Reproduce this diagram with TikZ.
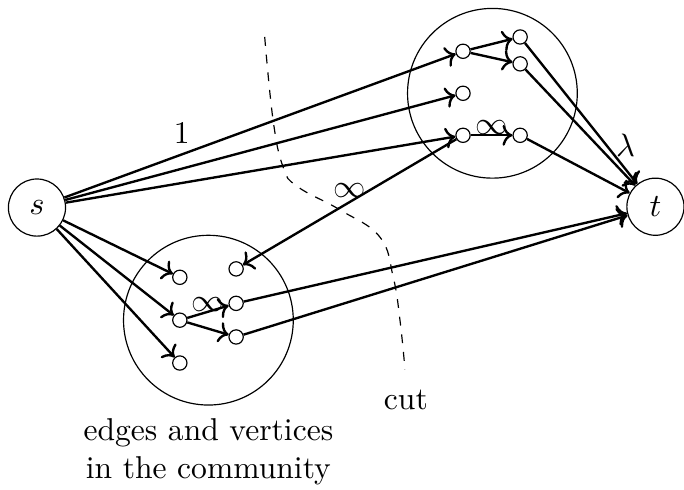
\documentclass[tikz,border=0pt]{standalone}
\usetikzlibrary{
  arrows.meta,
  positioning
}
\tikzset{
  every node/.style={
    font=\fontsize{10.7pt}{12.8pt}\selectfont
  },
  flow/.style={
    ->,
    thick
  },
  terminal/.style={
    draw,
    circle,
    minimum size=0.68cm,
    inner sep=0pt
  },
  vertex/.style={
    draw,
    circle,
    minimum size=0.17cm,
    inner sep=0pt
  },
  community/.style={
    draw,
    circle,
    minimum size=2.02cm
  },
  cutline/.style={
    dashed
  },
  weight/.style={
    inner sep=1pt
  }
}

\begin{document}
\begin{tikzpicture}
  \useasboundingbox (0,0) rectangle (8.14,5.82);

  % terminals
  \node[terminal] (s) at (0.44,3.35) {$s$};
  \node[terminal] (t) at (7.80,3.36) {$t$};

  % communities
  \node[community] (upper) at (5.86,4.71) {};
  \node[community] (lower) at (2.48,2.01) {};

  % vertices
  \foreach \name/\x/\y in {
    u1/5.51/5.21,
    u2/6.19/5.38,
    u3/6.19/5.06,
    u4/5.51/4.71,
    u5/5.51/4.21,
    u6/6.19/4.21,
    l1/2.14/2.52,
    l2/2.81/2.62,
    l3/2.14/2.01,
    l4/2.81/2.21,
    l5/2.81/1.81,
    l6/2.14/1.50
  }{
    \node[vertex] (\name) at (\x,\y) {};
  }

  % source edges
  \draw[flow] (s) -- node[pos=0.30, above] {1} (u1);
  \foreach \v in {u4,u5,l1,l3,l6}{
    \draw[flow] (s) -- (\v);
  }

  % edges inside communities
  \draw[flow] (u1) -- (u2);
  \draw[flow] (u1) -- (u3);
  \draw[flow] (u5) -- node[weight, midway, yshift=2.5pt] {$\infty$} (u6);
  \draw[flow] (l3) -- node[weight, midway, yshift=2.5pt] {$\infty$} (l4);
  \draw[flow] (l3) -- (l5);
  \draw[flow] (u5) -- node[weight, midway, yshift=4pt] {$\infty$} (l2);

  % sink edges
  \draw[flow] (u2) -- node[pos=0.66, right, xshift=2pt, yshift=-3pt] {$\lambda$} (t);
  \foreach \v in {u3,u6,l4,l5}{
    \draw[flow] (\v) -- (t);
  }

  % cut
  \draw[cutline] plot[smooth, tension=0.7] coordinates {
    (3.15,5.38) (3.25,4.39) (3.37,3.83) (3.54,3.60) (4.05,3.32)
    (4.52,3.00) (4.68,2.52) (4.76,2.01) (4.82,1.42)
  };
  \node (cut) at (4.83,1.06) {cut};

  \node[align=center] (caption) at (2.48,0.44) {edges and vertices\\in the community};
\end{tikzpicture}
\end{document}
